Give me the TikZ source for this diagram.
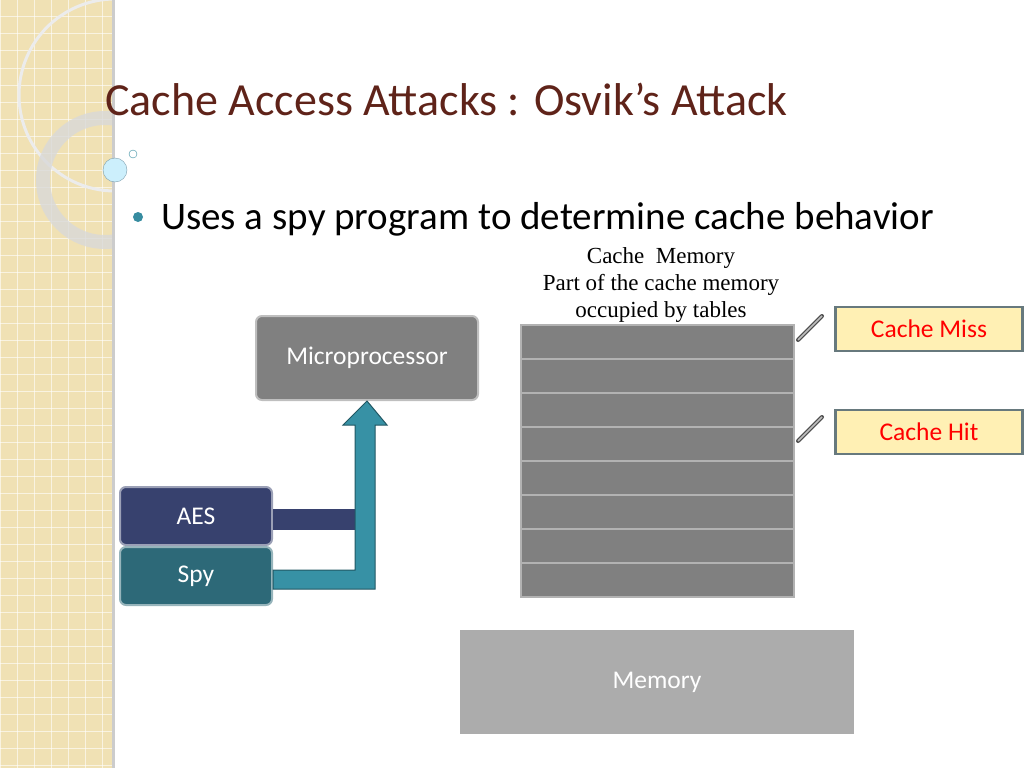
\documentclass[tikz,border=0pt]{standalone}
\usepackage{fontspec}
\setmainfont{Carlito}
\newfontfamily\serifface{Liberation Serif}
\definecolor{mytitle}{RGB}{95,35,25}
\definecolor{mybeige}{RGB}{240,225,180}
\definecolor{mygray}{RGB}{128,128,128}
\definecolor{mynavy}{RGB}{55,65,110}
\definecolor{myteal}{RGB}{45,105,120}
\definecolor{myarrow}{RGB}{55,145,165}
\definecolor{myyellow}{RGB}{255,240,180}
\definecolor{mybullet}{RGB}{55,140,160}
\tikzset{
    box/.style={draw=#1!50!white, line width=2pt, rounded corners=6pt, text=white, font=\fontsize{25.5}{28}\selectfont},
    cell/.style={draw=gray!60, fill=mygray, line width=1.5pt, minimum width=273pt, minimum height=34pt, anchor=north west, inner sep=0pt},
    tag/.style={draw=gray!70!myteal, line width=2.5pt, fill=myyellow, text=red, minimum width=187pt, minimum height=44pt, font=\fontsize{25.5}{28}\selectfont},
    note/.style={font=\serifface\fontsize{23}{25}\selectfont},
    pointer/.style={draw=gray!60!black, line width=4pt, line cap=round}
}
\begin{document}
\begin{tikzpicture}[x=1pt, y=-1pt]
\useasboundingbox (0,0) rectangle (1024,768);
% side strip
\fill[mybeige] (0,0) rectangle (112,768);
\begin{scope}
  \clip (0,0) rectangle (112,768);
  \foreach \i in {0,17,...,768} {
    \draw[white, opacity=0.6, line width=1pt] (\i,0) -- (\i,768);
    \draw[white, opacity=0.6, line width=1pt] (0,\i) -- (112,\i);
  }
  \draw[white!85!gray, line width=3pt] (115,95) circle (96);
  \draw[gray!30, opacity=0.8, line width=14pt] (105,180) circle (62);
\end{scope}
\fill[gray!40] (112,0) rectangle (115,768);
\fill[cyan!20!white, draw=cyan!30!gray] (115,170) circle (12);
\draw[mybullet] (133,154) circle (4);
% title and bullet
\node[anchor=base west, inner sep=0pt, text=mytitle, font=\fontsize{46}{50}\selectfont] (title) at (105,115) {Cache Access Attacks : Osvik’s Attack};
\fill[mybullet] (138,217) circle (5);
\node[anchor=base west, inner sep=0pt, font=\fontsize{39}{42}\selectfont] (bullet) at (161,229) {Uses a spy program to determine cache behavior};
% cache labels
\node[note] (lbla) at (661,258) {Cache\ \ Memory};
\node[note] (lblb) at (661,285) {Part of the cache memory};
\node[note] (lblc) at (661,312) {occupied by tables};
% cache rows
\foreach \r in {0,...,7}
  \node[cell] (row\r) at (520,{324+34*\r}) {};
% tags
\node[tag] (miss) at (929,329) {Cache Miss};
\node[tag] (hit) at (929,432) {Cache Hit};
\coordinate (missa) at (798,340);
\coordinate (missb) at (822,316);
\coordinate (hita) at (798,441);
\coordinate (hitb) at (822,417);
\draw[pointer] (missa) -- (missb);
\draw[pointer] (hita) -- (hitb);
\draw[gray!50, line width=1.5pt] (missa) -- (missb) (hita) -- (hitb);
% processor and programs
\node[box=mygray, fill=mygray, minimum width=222pt, minimum height=84pt] (cpu) at (367,358) {Microprocessor};
\node[box=mynavy, fill=mynavy, minimum width=152pt, minimum height=58pt] (aes) at (196,516) {AES};
\node[box=myteal, fill=myteal, minimum width=152pt, minimum height=58pt] (spy) at (196,576) {Spy};
\fill[mynavy] (aes.east |- 0,509) rectangle (355,530);
\draw[myarrow!60!black, fill=myarrow, line width=1pt]
  (spy.east |- 0,570) -- (355,570) -- (355,425) -- (343,425) -- (cpu.south) -- (387,425) -- (375,425) -- (375,589) -- (spy.east |- 0,589) -- cycle;
% memory
\node[fill=gray!65, text=white, minimum width=394pt, minimum height=104pt, font=\fontsize{25.5}{28}\selectfont] (mem) at (657,682) {Memory};
\end{tikzpicture}
\end{document}
